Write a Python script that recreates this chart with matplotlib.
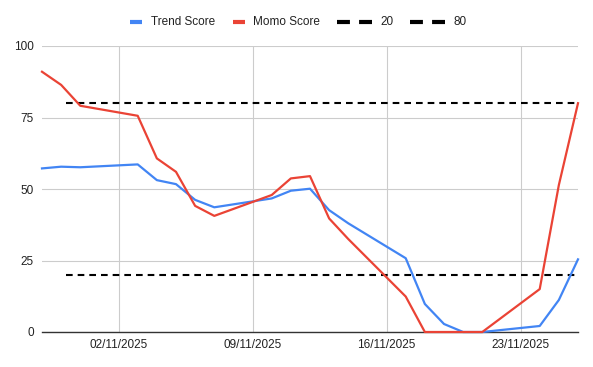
import numpy as np
import pandas as pd
import matplotlib
matplotlib.use("Agg")
import matplotlib.pyplot as plt
import matplotlib.dates as mdates
from matplotlib.lines import Line2D

# trading days shown on the chart
dates = pd.to_datetime([
    "2025-10-29", "2025-10-30", "2025-10-31", "2025-11-03", "2025-11-04",
    "2025-11-05", "2025-11-06", "2025-11-07", "2025-11-10", "2025-11-11",
    "2025-11-12", "2025-11-13", "2025-11-14", "2025-11-17", "2025-11-18",
    "2025-11-19", "2025-11-20", "2025-11-21", "2025-11-24", "2025-11-25",
    "2025-11-26",
])
trend_score = [57.2, 57.8, 57.6, 58.6, 53.1, 51.7, 46.2, 43.6, 46.7, 49.4,
               50.1, 42.6, 38.0, 25.8, 9.8, 2.8, 0, 0, 2.1, 11.2, 25.4]
momo_score = [91.0, 86.4, 79.1, 75.6, 60.7, 56.0, 44.1, 40.6, 47.9, 53.7,
              54.5, 39.7, 32.5, 12.4, 0, 0, 0, 0, 15.0, 51.4, 80.0]
line_20 = [np.nan] + [20] * 20
line_80 = [np.nan] + [80] * 20

y_ticks = [0, 25, 50, 75, 100]
x_ticks = pd.to_datetime(["2025-11-02", "2025-11-09", "2025-11-16", "2025-11-23"])

plt.rcParams["font.family"] = ["Liberation Sans", "DejaVu Sans"]

fig = plt.figure(figsize=(5.93, 3.67), dpi=100)
ax = fig.add_axes([42 / 593, 1 - 332 / 367, 536 / 593, 286 / 367])

blue = "#4285F4"
red = "#EA4335"

ax.plot(dates, trend_score, color=blue, lw=1.6, clip_on=False, zorder=4)
ax.plot(dates, momo_score, color=red, lw=1.6, clip_on=False, zorder=4)
# dash pattern starts with a gap, like the original
ax.plot(dates, line_20, color="black", lw=1.5, ls=(3.2, (3.2, 2.4)), zorder=3)
ax.plot(dates, line_80, color="black", lw=1.5, ls=(3.2, (3.2, 2.4)), zorder=3)

ax.set_xlim(dates[0], dates[-1])
ax.set_ylim(0, 100)
ax.set_yticks(y_ticks)
ax.set_xticks(x_ticks)
ax.xaxis.set_major_formatter(mdates.DateFormatter("%d/%m/%Y"))
ax.tick_params(length=0, labelsize=8.5, colors="#222222")
ax.tick_params(axis="y", pad=6)
ax.tick_params(axis="x", pad=5)
ax.grid(True, color="#cccccc", lw=0.8)
ax.set_axisbelow(True)
for side in ["top", "right", "left"]:
    ax.spines[side].set_visible(False)
ax.spines["bottom"].set_color("#333333")
ax.spines["bottom"].set_linewidth(1)
ax.spines["bottom"].set_zorder(2)

# legend drawn like the Google Sheets one
W, H = 593, 367
y_leg = 1 - 22 / H
items = [
    ("Trend Score", blue, None, 130, 142, 151),
    ("Momo Score", red, None, 233, 245, 253),
    ("20", "black", (3.1, 2.2), 337, 373, 380),
    ("80", "black", (3.1, 2.2), 410, 446, 453),
]
for label, color, dash, x0, x1, xt in items:
    if dash is None:
        fig.add_artist(Line2D([x0 / W, x1 / W], [y_leg, y_leg], color=color,
                              lw=3, solid_capstyle="butt", transform=fig.transFigure))
    else:
        fig.add_artist(Line2D([x0 / W, x1 / W], [y_leg, y_leg], color=color,
                              lw=3, dashes=dash, dash_capstyle="butt",
                              transform=fig.transFigure))
    fig.text(xt / W, y_leg, label, fontsize=8.5, va="center", ha="left", color="#222222")

fig.savefig("out.png", dpi=100)
